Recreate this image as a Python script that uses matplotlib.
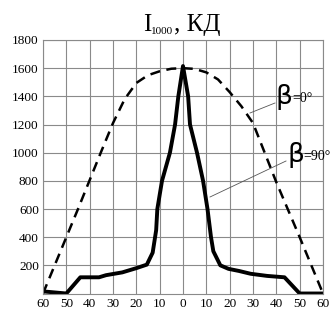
import matplotlib
matplotlib.use("Agg")
import matplotlib.pyplot as plt

# angle, degrees (negative = left half of the plot)
angle_b0 = [-60, -55, -50, -45, -40, -35, -30, -25, -20, -15, -10, -5, 0,
            5, 10, 15, 20, 25, 30, 35, 40, 45, 50, 55, 60]
# beta = 0 deg, dashed curve
intensity_b0 = [0, 200, 400, 600, 805, 1010, 1210, 1380, 1495, 1550, 1578, 1596, 1600,
                1595, 1570, 1520, 1430, 1330, 1210, 1000, 790, 595, 400, 200, 0]

angle_b90 = [-60, -50, -44, -36, -33, -26, -20, -15.5, -13, -11.5, -11, -9, -5.6, -3.4, -2, 0,
             2.2, 3, 6, 8.6, 10.5, 12, 13, 16, 19.5, 24, 29, 36, 43.5, 50, 60]
# beta = 90 deg, solid curve
intensity_b90 = [15, 0, 115, 115, 130, 150, 180, 205, 290, 450, 600, 800, 1000, 1200, 1400, 1615,
                 1400, 1200, 1000, 800, 600, 400, 300, 200, 175, 160, 140, 125, 115, 0, 0]

x_ticks = [-60, -50, -40, -30, -20, -10, 0, 10, 20, 30, 40, 50, 60]
x_labels = [str(abs(v)) for v in x_ticks]
y_ticks = [200, 400, 600, 800, 1000, 1200, 1400, 1600, 1800]

plt.rcParams['font.family'] = ['Liberation Serif', 'DejaVu Serif']

W, H = 333, 311
fig = plt.figure(figsize=(W / 100, H / 100), dpi=100)
ax = fig.add_axes([43 / W, 1 - 293.5 / H, 280 / W, 253.5 / H])

ax.plot(angle_b0, intensity_b0, color='black', lw=1.8, ls=(0, (4, 2.6)))
ax.plot(angle_b90, intensity_b90, color='black', lw=2.8, solid_joinstyle='round')

ax.set_xlim(-60, 60)
ax.set_ylim(0, 1800)
ax.set_xticks(x_ticks)
ax.set_xticklabels(x_labels)
ax.set_yticks(y_ticks)
ax.grid(True, color='#8a8a8a', lw=0.8)
ax.tick_params(length=0, labelsize=9.5, pad=3)
for s in ax.spines.values():
    s.set_color('#8a8a8a')
    s.set_linewidth(0.8)

# title "I_1000, КД" built from pieces so the subscript stays small
r = fig.canvas.get_renderer()
x0, base = 143 / W, 1 - 31 / H
parts = [('I', 18, 0), ('1000', 8, -2.5), (', КД', 18, 0)]
for txt, size, dy in parts:
    t = fig.text(x0, base + dy / H, txt, fontsize=size, ha='left', va='baseline')
    x0 += t.get_window_extent(r).width / W

# labels of the curves
def beta_label(px, py, tail, line_end):
    # px, py: pixel position of the beta glyph (left, centre)
    b = fig.text(px / W, 1 - py / H, 'β', fontsize=19, family='DejaVu Sans',
                 ha='left', va='center')
    bw = b.get_window_extent(r).width
    fig.text((px + bw - 1) / W, 1 - (py + 1) / H, tail, fontsize=10,
             ha='left', va='center')
    fig.add_artist(plt.Line2D([line_end[0] / W, (px - 1) / W],
                              [1 - line_end[1] / H, 1 - (py + 6) / H],
                              color='#555555', lw=0.6))

beta_label(276, 97, '=0°', (250, 113))
beta_label(287, 155, '=90°', (210, 197))

fig.savefig('out.png', dpi=100)
